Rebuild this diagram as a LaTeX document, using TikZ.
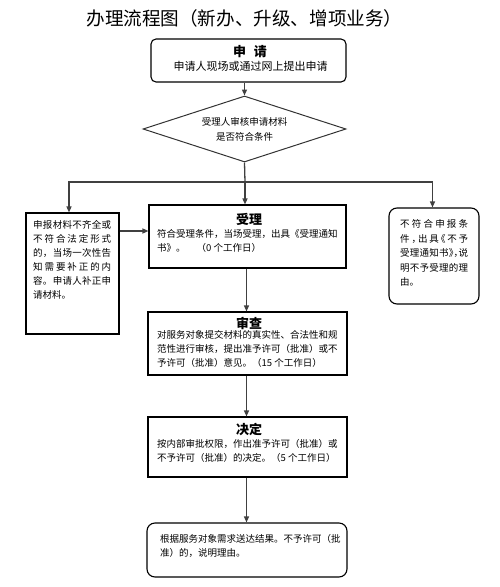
\documentclass[tikz,border=0pt]{standalone}
\usepackage{fontspec}
\setmainfont{Noto Sans CJK SC}
\newfontfamily\haltfont[RawFeature=+halt]{Noto Sans CJK SC}
\usetikzlibrary{arrows.meta,shapes.geometric,calc}
\def\spreadA#1{#1\spreadB}
\def\spreadB#1{\ifx\relax#1\else\hss#1\expandafter\spreadB\fi}
\newcommand\jline[2]{\hbox to #1{\spreadA#2\relax}}
\tikzset{
  boxa/.style={draw=black, line width=1.1pt, inner sep=0pt},
  conn/.style={draw=black!75, line width=1.3pt},
  arr/.style={conn, -{Triangle[length=6pt,width=5pt]}},
  txt/.style={inner sep=0pt, anchor=north west, align=left, font=\fontsize{9.5}{14}\selectfont},
  head/.style={inner sep=0pt, font=\bfseries\fontsize{13}{15}\selectfont},
}
\begin{document}
\begin{tikzpicture}[x=1pt,y=-1pt]
\useasboundingbox (0,0) rectangle (500,587);
% title
\node[inner sep=0pt, font=\fontsize{18.6}{20}\selectfont] (title) at (244.5,18) {办理流程图（新办、升级、增项业务）};
% box 1
\node[boxa, rounded corners=5pt, minimum width=195pt, minimum height=43pt] (apply) at (248.5,60.5) {};
\node[head] (applyh) at (250,52) {申\hspace{0.6em}请};
\node[inner sep=0pt, font=\fontsize{11}{13}\selectfont] (applyt) at (250.5,66) {申请人现场或通过网上提出申请};
% diamond
\node[diamond, draw=black!80, line width=1pt, inner sep=0pt, minimum width=203pt, minimum height=66pt] (dia) at (244.5,129) {};
\node[inner sep=0pt, align=center, font=\fontsize{9.5}{15}\selectfont] (diat) at (244.5,129.5) {受理人审核申请材料\\是否符合条件};
% left box
\node[boxa, minimum width=93pt, minimum height=121pt] (lbox) at (72.5,273.5) {};
\node[txt] (lboxt) at (33,220.5) {\jline{78pt}{申报材料不齐全或}\\
\jline{78pt}{不符合法定形式}\\
\jline{78pt}{的，当场一次性告}\\
\jline{78pt}{知需要补正的内}\\
\jline{78pt}{容。申请人补正申}\\
请材料。};
% right box
\node[boxa, rounded corners=8pt, minimum width=90pt, minimum height=96pt] (rbox) at (434,256) {};
\node[txt, font=\haltfont\fontsize{9.5}{14.5}\selectfont] (rboxt) at (400,219.5) {\jline{68pt}{不符合申报条}\\
\jline{68pt}{件，出具《不予}\\
\jline{68pt}{受理通知书》，说}\\
\jline{68pt}{明不予受理的理}\\
由。};
% accept box
\node[boxa, minimum width=197pt, minimum height=63pt] (acc) at (247.5,236.5) {};
\node[head] (acch) at (249,219) {受理};
\node[txt] (acct) at (157,229.5) {符合受理条件，当场受理，出具《受理通知\\书》。\hspace{11pt}（0 个工作日）};
% review box
\node[boxa, minimum width=199pt, minimum height=63pt] (rev) at (247.5,343.5) {};
\node[head] (revh) at (249,323) {审查};
\node[txt] (revt) at (157,330.5) {对服务对象提交材料的真实性、合法性和规\\范性进行审核，提出准予许可（批准）或不\\予许可（批准）意见。（15 个工作日）};
% decision box
\node[boxa, minimum width=199pt, minimum height=60pt] (dec) at (247.5,447) {};
\node[head] (dech) at (249,429) {决定};
\node[txt] (dect) at (157,439.5) {按内部审批权限，作出准予许可（批准）或\\不予许可（批准）的决定。（5 个工作日）};
% result box
\node[boxa, rounded corners=8pt, minimum width=200pt, minimum height=54pt] (res) at (247,550) {};
\node[txt] (rest) at (160,534.5) {根据服务对象需求送达结果。不予许可（批\\准）的，说明理由。};
% connectors
\coordinate (br) at (245,182);
\draw[arr] (apply.south -| dia.north) -- (dia.north);
\draw[conn] (dia.south) -- (br);
\draw[arr] (br) -- (br |- acc.north);
\draw[arr] (br) -| ($(lbox.north)+(-3.5,0)$);
\draw[arr] (br) -| ($(rbox.north)+(-1.5,0)$);
\draw[arr] (lbox.east |- 0,231) -- (acc.west |- 0,231);
\draw[arr] ($(acc.south)+(-1,0)$) -- ($(rev.north)+(-1,0)$);
\draw[arr] ($(rev.south)+(-1,0)$) -- ($(dec.north)+(-1,0)$);
\draw[arr] ($(dec.south)+(-1,0)$) -- ($(res.north)+(-0.5,0)$);
\end{tikzpicture}
\end{document}
